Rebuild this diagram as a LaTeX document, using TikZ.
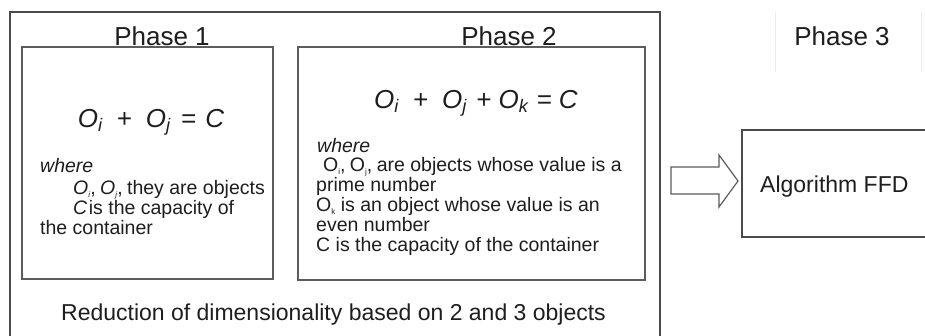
\documentclass[tikz,border=0pt]{standalone}
\usepackage{fontspec}
\setmainfont{Liberation Sans}
\definecolor{txt}{HTML}{1E1E1E}
\definecolor{frame}{HTML}{4A4A4A}
\definecolor{inframe}{HTML}{5C5C5C}
\definecolor{faint}{HTML}{ECECEC}
\newcommand{\tsb}[1]{\raisebox{-2.5pt}{\fontsize{8}{8}\selectfont #1}}
\tikzset{
  lbl/.style={inner sep=0pt, text=txt, font=\fontsize{26}{28}\selectfont, anchor=base},
  eqn/.style={inner sep=0pt, text=txt, font=\fontsize{26}{28}\selectfont\itshape, anchor=base},
  body/.style={inner sep=0pt, text=txt, font=\fontsize{19.5}{20}\selectfont, anchor=base west},
  big/.style={inner sep=0pt, text=txt, font=\fontsize{23}{25}\selectfont},
  phasebox/.style={draw=inframe, line width=1.8pt, inner sep=0pt},
}
\begin{document}
\begin{tikzpicture}[x=1pt,y=-1pt]
\useasboundingbox[fill=white] (0,0) rectangle (925,335);
% outer frame (open at the bottom)
\coordinate (obl) at (10,336);
\coordinate (otl) at (10,12);
\coordinate (otr) at (660,12);
\coordinate (obr) at (660,336);
\draw[frame, line width=1.3pt] (obl) -- (otl) -- (otr) -- (obr);
% phase boxes
\node[phasebox, minimum width=251pt, minimum height=232pt] (p1box) at (147.5,163) {};
\node[phasebox, minimum width=347pt, minimum height=233pt] (p2box) at (471.5,163.5) {};
% phase labels
\node[lbl] (ph1) at (162,45) {Phase 1};
\node[lbl] (ph2) at (509,45) {Phase 2};
\node[lbl] (ph3) at (842,45) {Phase 3};
\coordinate (f1t) at (775,12); \coordinate (f1b) at (775,72);
\coordinate (f2t) at (921,12); \coordinate (f2b) at (921,72);
\draw[faint, line width=1pt] (f1t) -- (f1b);
\draw[faint, line width=1pt] (f2t) -- (f2b);
% equations
\node[eqn] (eq1) at (151,127) {O\textsubscript{i}\hspace{14pt}+\hspace{14pt}O\textsubscript{j}\hspace{3pt} = \hspace{2pt}C};
\node[eqn] (eq2) at (476,108) {O\textsubscript{i}\hspace{14pt}+\hspace{14pt}O\textsubscript{j}\hspace{2pt} + O\textsubscript{k}\hspace{1pt} = C};
% phase 1 text
\node[body, font=\fontsize{19.5}{20}\selectfont\itshape] (w1) at (40,172) {where};
\node[body] (a1) at (73,194.5) {\textit{O}\tsb{\textit{i}},\hspace{-1pt} \textit{O}\tsb{\textit{j}},\hspace{-1pt} they are objects};
\node[body] (a2) at (73,214) {\textit{C}\hspace{1.5pt}is the capacity of};
\node[body] (a3) at (40,234) {the container};
% phase 2 text
\node[body, font=\fontsize{19.5}{20}\selectfont\itshape] (w2) at (317,152) {where};
\node[body] (b1) at (323,171.9) {O\tsb{i},\hspace{-1pt} O\tsb{j},\hspace{-1pt} are objects whose value is a};
\node[body] (b2) at (316,191.8) {prime number};
\node[body] (b3) at (316,211.7) {O\tsb{k} is an object whose value is an};
\node[body] (b4) at (316,231.6) {even number};
\node[body] (b5) at (316,251.5) {C is the capacity of the container};
% bottom caption
\node[big, anchor=base] (cap) at (333.5,320) {Reduction of dimensionality based on 2 and 3 objects};
% algorithm box (open at the right)
\coordinate (atr) at (926,130);
\coordinate (atl) at (742,130);
\coordinate (abl) at (742,237);
\coordinate (abr) at (926,237);
\draw[frame, line width=1.3pt] (atr) -- (atl) -- (abl) -- (abr);
\node[big, anchor=base west] (alg) at (760,192) {Algorithm FFD};
% block arrow
\coordinate (s1) at (671,167);
\coordinate (s2) at (719,167);
\coordinate (h1) at (719,155);
\coordinate (tip) at (738,181);
\coordinate (h2) at (719,207);
\coordinate (s3) at (719,194);
\coordinate (s4) at (671,194);
\draw[inframe, fill=white, line width=1.2pt, line join=miter] (s1) -- (s2) -- (h1) -- (tip) -- (h2) -- (s3) -- (s4) -- cycle;
\end{tikzpicture}
\end{document}
